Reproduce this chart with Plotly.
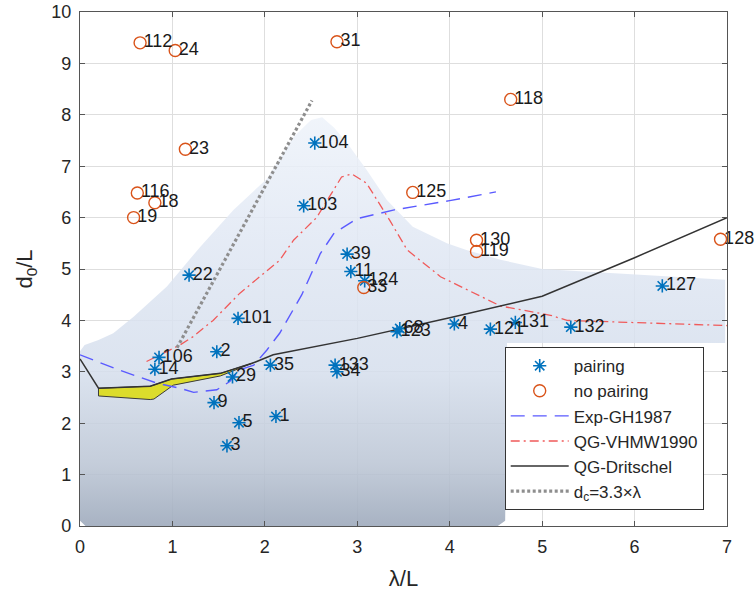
import plotly.graph_objects as go

# ---------------- data ----------------
pair_labels = ['104', '103', '39', '11', '124', '68', '123', '4', '121', '131', '133', '34',
               '132', '127', '101', '22', '106', '14', '2', '29', '35', '9', '5', '1', '3']
pair_x = [2.54, 2.42, 2.89, 2.93, 3.08, 3.46, 3.43, 4.05, 4.44, 4.71, 2.76, 2.78,
          5.31, 6.30, 1.71, 1.18, 0.855, 0.81, 1.48, 1.65, 2.06, 1.45, 1.72, 2.12, 1.59]
pair_y = [7.45, 6.23, 5.29, 4.95, 4.77, 3.84, 3.78, 3.93, 3.83, 3.96, 3.13, 3.00,
          3.87, 4.67, 4.04, 4.88, 3.28, 3.05, 3.39, 2.90, 3.13, 2.40, 2.01, 2.13, 1.56]

nopair_labels = ['112', '24', '31', '23', '116', '18', '19', '118', '125', '130', '119', '33', '128']
nopair_x = [0.65, 1.03, 2.78, 1.14, 0.62, 0.81, 0.58, 4.66, 3.60, 4.29, 4.29, 3.07, 6.93]
nopair_y = [9.40, 9.25, 9.42, 7.33, 6.48, 6.29, 6.00, 8.30, 6.49, 5.56, 5.34, 4.64, 5.58]

gh_x = [0, 0.43, 0.83, 1.08, 1.23, 1.48, 1.62, 1.73, 1.88, 2.02, 2.16, 2.4, 2.6, 2.75, 3.0, 3.4, 4.0, 4.5]
gh_y = [3.33, 3.03, 2.78, 2.68, 2.60, 2.65, 2.81, 3.04, 3.13, 3.42, 3.75, 4.5, 5.3, 5.7, 5.98, 6.15, 6.33, 6.5]

vh_x = [0.72, 1.08, 1.22, 1.44, 1.73, 2.16, 2.31, 2.56, 2.83, 2.94, 3.1, 3.35, 3.54, 3.9, 4.55, 5.09, 5.27, 6.17, 7.0]
vh_y = [3.2, 3.52, 3.68, 4.0, 4.53, 5.17, 5.56, 6.0, 6.79, 6.85, 6.67, 5.95, 5.37, 4.85, 4.28, 4.1, 4.0, 3.95, 3.9]

dr_x = [0, 0.2, 0.76, 0.99, 1.52, 1.87, 2.09, 2.5, 3.0, 4.0, 5.0, 6.0, 7.0]
dr_y = [3.25, 2.68, 2.72, 2.86, 2.97, 3.17, 3.33, 3.47, 3.65, 4.05, 4.47, 5.22, 6.0]

dc_x = [1.05, 2.51]
dc_y = [3.47, 8.28]

yel_x = [0.2, 0.76, 0.99, 1.52, 1.87, 1.52, 1.01, 0.80, 0.76, 0.2, 0.2]
yel_y = [2.68, 2.72, 2.86, 2.97, 3.17, 2.92, 2.74, 2.47, 2.46, 2.53, 2.68]

shade_x = [0.06, 0.0, 0.0, 0.05, 0.2, 0.36, 0.58, 0.94, 1.3, 1.66, 2.02, 2.31, 2.5, 2.62, 2.75,
           2.89, 3.1, 3.32, 3.6, 3.97, 4.18, 4.55, 5.0, 6.06, 6.98, 6.98, 4.62, 4.6, 4.52, 0.06]
shade_y = [0.0, 0.1, 3.4, 3.52, 3.62, 3.75, 4.07, 4.66, 5.43, 6.15, 6.75, 7.57, 7.9, 7.95, 7.75,
           7.45, 6.93, 6.34, 5.82, 5.5, 5.37, 5.18, 5.0, 4.88, 4.79, 3.56, 3.56, 0.1, 0.0, 0.0]

FONT = 'Liberation Sans, Arial, sans-serif'
TXT = '#262626'

fig = go.Figure()

# shaded region
fig.add_trace(go.Scatter(
    x=shade_x, y=shade_y, mode='lines', fill='toself', line=dict(width=0),
    fillgradient=dict(type='vertical', start=0, stop=8,
                      colorscale=[[0, 'rgba(158,170,188,0.9)'], [0.15, 'rgba(188,198,213,0.88)'],
                                  [0.38, 'rgba(214,223,237,0.86)'], [0.7, 'rgba(225,232,244,0.86)'],
                                  [1, 'rgba(238,243,250,0.86)']]),
    showlegend=False, hoverinfo='skip'))

# yellow band
fig.add_trace(go.Scatter(
    x=yel_x, y=yel_y, mode='lines', fill='toself', fillcolor='#dcdc2c',
    line=dict(color='#3a3a3a', width=1), showlegend=False, hoverinfo='skip'))

# curves
fig.add_trace(go.Scatter(x=gh_x, y=gh_y, mode='lines', name='Exp-GH1987',
                         line=dict(color='#5a5aff', width=1.4, dash='14px,8px'), legendrank=3))
fig.add_trace(go.Scatter(x=vh_x, y=vh_y, mode='lines', name='QG-VHMW1990',
                         line=dict(color='#f05a5a', width=1.3, dash='9px,4px,2px,4px'), legendrank=4))
fig.add_trace(go.Scatter(x=dr_x, y=dr_y, mode='lines', name='QG-Dritschel',
                         line=dict(color='#333333', width=1.5), legendrank=5))
fig.add_trace(go.Scatter(x=dc_x, y=dc_y, mode='lines', name='d<sub>c</sub>=3.3×λ',
                         line=dict(color='#8e8e8e', width=3.2, dash='3px,2.5px'), legendrank=6))

# markers
fig.add_trace(go.Scatter(x=pair_x, y=pair_y, mode='markers', name='pairing',
                         marker=dict(symbol='asterisk-open', size=11, color='#0072BD',
                                     line=dict(color='#0072BD', width=1.6)),
                         legendrank=1, cliponaxis=False))
fig.add_trace(go.Scatter(x=nopair_x, y=nopair_y, mode='markers', name='no pairing',
                         marker=dict(symbol='circle-open', size=12, color='#D95319', line=dict(width=1.4)),
                         legendrank=2, cliponaxis=False))

# labels
fig.add_trace(go.Scatter(x=pair_x, y=pair_y, mode='text', text=['\u2009' + t for t in pair_labels],
                         textposition='middle right', textfont=dict(family=FONT, size=18, color='#1a1a1a'),
                         showlegend=False, hoverinfo='skip', cliponaxis=False))
fig.add_trace(go.Scatter(x=nopair_x, y=nopair_y, mode='text', text=['\u2009' + t for t in nopair_labels],
                         textposition='middle right', textfont=dict(family=FONT, size=18, color='#1a1a1a'),
                         showlegend=False, hoverinfo='skip', cliponaxis=False))

axis_common = dict(
    dtick=1, ticks='inside', ticklen=5, tickcolor='#555', tickwidth=1,
    showline=True, linecolor='#555', linewidth=1.2, mirror='ticks',
    showgrid=True, gridcolor='#dedede', gridwidth=1, zeroline=False,
    tickfont=dict(family=FONT, size=18, color=TXT), automargin=False,
)

fig.update_layout(
    width=754, height=594,
    margin=dict(l=80, r=27, t=12, b=68),
    paper_bgcolor='white', plot_bgcolor='white',
    font=dict(family=FONT, color=TXT),
    xaxis=dict(range=[0, 7], ticklabelstandoff=4,
               title=dict(text='λ/L', font=dict(size=22, color=TXT), standoff=14), **axis_common),
    yaxis=dict(range=[0, 10], ticklabelstandoff=4,
               title=dict(text='d<sub>0</sub>/L', font=dict(size=22, color=TXT), standoff=12), **axis_common),
    legend=dict(x=0.964, y=0.348, xanchor='right', yanchor='top', bgcolor='white',
                bordercolor='#333', borderwidth=1, font=dict(family=FONT, size=17, color=TXT),
                itemwidth=58, tracegroupgap=0),
    showlegend=True,
)

fig.write_html('out.html', config={'displayModeBar': False},
               post_script="document.body.style.margin='0';")
